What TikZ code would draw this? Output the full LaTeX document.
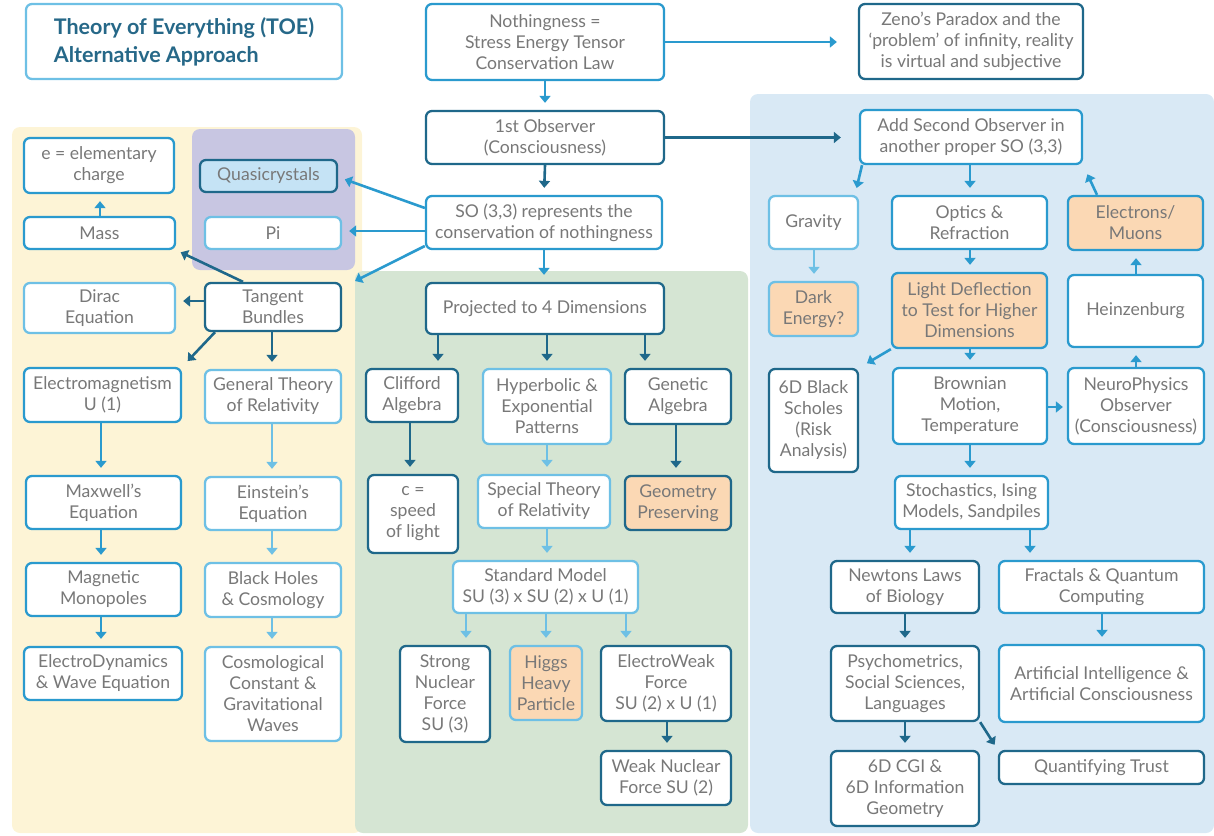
\documentclass[tikz,border=0pt]{standalone}
\usepackage{fontspec}
\setmainfont{Lato}
\usetikzlibrary{arrows.meta}
\definecolor{cdark}{RGB}{31,104,138}
\definecolor{cmed}{RGB}{42,154,206}
\definecolor{clight}{RGB}{110,192,229}
\definecolor{txt}{RGB}{120,120,120}
\definecolor{ctitle}{RGB}{38,104,136}
\definecolor{cyel}{RGB}{253,244,214}
\definecolor{cpur}{RGB}{200,198,226}
\definecolor{cgrn}{RGB}{213,229,211}
\definecolor{cblu}{RGB}{217,233,245}
\definecolor{corg}{RGB}{251,216,180}
\definecolor{cqua}{RGB}{197,227,245}
\newcommand\bx[7]{\node[#6, minimum width={(#4)-(#2)}, minimum height={(#5)-(#3)}] (#1) at ({((#2)+(#4))/2},{((#3)+(#5))/2}) {#7};}
\tikzset{
  base/.style={rectangle, rounded corners=6pt, line width=2.3pt, fill=white, text=txt, align=center, inner sep=1pt, font=\fontsize{17.6}{21}\selectfont},
  bd/.style={base, draw=cdark},
  bm/.style={base, draw=cmed},
  bl/.style={base, draw=clight},
  ofill/.style={fill=corg},
  arr/.style={line width=2.6pt, -{Triangle[width=11pt,length=7pt]}, shorten >=7pt},
  ad/.style={arr, draw=cdark},
  am/.style={arr, draw=cmed},
  al/.style={arr, draw=clight},
}
\begin{document}
\begin{tikzpicture}[x=1pt,y=-1pt]
\useasboundingbox (0,0) rectangle (1214,835);
% panels
\fill[cyel, rounded corners=8pt] (12,127) rectangle (362,833);
\fill[cpur, rounded corners=8pt] (192,129) rectangle (355,270);
\fill[cgrn, rounded corners=8pt] (355,271) rectangle (748,833);
\fill[cblu, rounded corners=8pt] (750,94) rectangle (1214,833);
% top
\bx{title}{26}{4}{342}{79}{bl, align=left, text=ctitle, font=\fontsize{21.5}{28}\bfseries\selectfont}{Theory of Everything (TOE)\\Alternative Approach}
\bx{nothing}{426}{4}{664}{80}{bm}{Nothingness =\\Stress Energy Tensor\\Conservation Law}
\bx{zeno}{859}{4}{1083}{79}{bd}{Zeno’s Paradox and the\\‘problem’ of infinity, reality\\is virtual and subjective}
\bx{obs1}{426}{111}{664}{164}{bd}{1st Observer\\(Consciousness)}
\bx{obs2}{860}{110}{1082}{164}{bm}{Add Second Observer in\\another proper SO (3,3)}
\bx{so}{426}{196}{662}{249}{bm}{SO (3,3) represents the\\conservation of nothingness}
% yellow / purple
\bx{echarge}{24}{138}{174}{193}{bm}{e = elementary\\charge}
\bx{mass}{24}{217}{175}{249}{bm}{Mass}
\bx{quasi}{200}{160}{337}{192}{bd, fill=cqua}{Quasicrystals}
\bx{pi}{205}{217}{341}{249}{bl}{Pi}
\bx{tangent}{205}{283}{341}{331}{bd}{Tangent\\Bundles}
\bx{dirac}{24}{283}{175}{333}{bl}{Dirac\\Equation}
\bx{em}{24}{368}{181}{422}{bm}{Electromagnetism\\U (1)}
\bx{gtr}{205}{370}{341}{423}{bl}{General Theory\\of Relativity}
\bx{maxwell}{26}{476}{181}{529}{bm}{Maxwell’s\\Equation}
\bx{einstein}{205}{477}{341}{530}{bl}{Einstein’s\\Equation}
\bx{mono}{26}{563}{181}{616}{bm}{Magnetic\\Monopoles}
\bx{bh}{205}{563}{341}{617}{bl}{Black Holes\\\& Cosmology}
\bx{edyn}{24}{647}{182}{700}{bm}{ElectroDynamics\\\& Wave Equation}
\bx{cosmo}{205}{647}{341}{741}{bl}{Cosmological\\Constant \&\\Gravitational\\Waves}
% green
\bx{proj}{426}{283}{664}{334}{bd}{Projected to 4 Dimensions}
\bx{cliff}{366}{369}{458}{422}{bd}{Clifford\\Algebra}
\bx{hyper}{483}{369}{611}{444}{bl}{Hyperbolic \&\\Exponential\\Patterns}
\bx{genetic}{625}{369}{731}{424}{bd}{Genetic\\Algebra}
\bx{clight}{368}{475}{458}{553}{bd}{c =\\speed\\of light}
\bx{str}{478}{475}{610}{528}{bl}{Special Theory\\of Relativity}
\bx{geo}{625}{476}{731}{530}{bd, ofill}{Geometry\\Preserving}
\bx{sm}{453}{561}{638}{613}{bl}{Standard Model\\SU (3) x SU (2) x U (1)}
\bx{strong}{400}{646}{490}{742}{bd}{Strong\\Nuclear\\Force\\SU (3)}
\bx{higgs}{510}{646}{582}{720}{bl, ofill}{Higgs\\Heavy\\Particle}
\bx{ew}{601}{646}{731}{721}{bd}{ElectroWeak\\Force\\SU (2) x U (1)}
\bx{weak}{601}{751}{731}{805}{bd}{Weak Nuclear\\Force SU (2)}
% blue
\bx{grav}{769}{196}{858}{249}{bl}{Gravity}
\bx{optics}{892}{196}{1047}{249}{bm}{Optics \&\\Refraction}
\bx{elec}{1068}{196}{1203}{250}{bm, ofill}{Electrons/\\Muons}
\bx{dark}{769}{282}{858}{336}{bl, ofill}{Dark\\Energy?}
\bx{light}{892}{273}{1047}{348}{bm, ofill}{Light Deflection\\to Test for Higher\\Dimensions}
\bx{heinz}{1068}{275}{1203}{347}{bm}{Heinzenburg}
\bx{black}{769}{369}{858}{472}{bd}{6D Black\\Scholes\\(Risk\\Analysis)}
\bx{brown}{893}{368}{1047}{444}{bm}{Brownian\\Motion,\\Temperature}
\bx{neuro}{1068}{368}{1204}{444}{bm}{NeuroPhysics\\Observer\\(Consciousness)}
\bx{stoch}{895}{476}{1048}{529}{bm}{Stochastics, Ising\\Models, Sandpiles}
\bx{newton}{831}{561}{979}{613}{bd}{Newtons Laws\\of Biology}
\bx{fract}{999}{561}{1204}{613}{bm}{Fractals \& Quantum\\Computing}
\bx{psycho}{831}{646}{979}{721}{bd}{Psychometrics,\\Social Sciences,\\Languages}
\bx{ai}{999}{645}{1204}{722}{bm}{Artificial Intelligence \&\\Artificial Consciousness}
\bx{cgi}{831}{751}{979}{826}{bd}{6D CGI \&\\6D Information\\Geometry}
\bx{trust}{999}{751}{1204}{784}{bd}{Quantifying Trust}
\coordinate (tbend) at (355,281);
% arrows top
\draw[am, shorten >=21pt] (nothing.east |- 0,42) -- (zeno.west |- 0,42);
\draw[am] (nothing.south) -- (obs1.north);
\draw[ad, shorten >=18pt] (obs1.east) -- (obs2.west |- obs1.east);
\draw[ad] (obs1.south) -- (so.north);
\draw[am] (so.west |- 0,208) -- (quasi.east |- 0,177);
\draw[am] (so.west |- 0,231) -- (pi.east |- 0,231);
\draw[am, shorten >=0pt] (so.west |- 0,246) -- (tbend);
\draw[am] (so.south) -- (so.south |- proj.north);
% yellow
\draw[ad, shorten >=5pt] (243,0 |- tangent.north) -- (mass.south east);
\draw[am] (100,0 |- mass.north) -- (100,0 |- echarge.south);
\draw[ad] (tangent.west |- 0,301) -- (dirac.east |- 0,301);
\draw[ad, shorten >=8pt] (215,0 |- tangent.south) -- (em.north east);
\draw[ad] (272,0 |- tangent.south) -- (272,0 |- gtr.north);
\draw[am] (101,0 |- em.south) -- (101,0 |- maxwell.north);
\draw[al] (272,0 |- gtr.south) -- (272,0 |- einstein.north);
\draw[am] (101,0 |- maxwell.south) -- (101,0 |- mono.north);
\draw[al] (272,0 |- einstein.south) -- (272,0 |- bh.north);
\draw[am] (101,0 |- mono.south) -- (101,0 |- edyn.north);
\draw[al] (272,0 |- bh.south) -- (272,0 |- cosmo.north);
% green
\draw[ad] (438,0 |- proj.south) -- (438,0 |- cliff.north);
\draw[ad] (547,0 |- proj.south) -- (547,0 |- hyper.north);
\draw[ad] (645,0 |- proj.south) -- (645,0 |- genetic.north);
\draw[ad] (410,0 |- cliff.south) -- (410,0 |- clight.north);
\draw[al] (547,0 |- hyper.south) -- (547,0 |- str.north);
\draw[ad] (676,0 |- genetic.south) -- (676,0 |- geo.north);
\draw[al] (547,0 |- str.south) -- (547,0 |- sm.north);
\draw[al] (466,0 |- sm.south) -- (466,0 |- strong.north);
\draw[al] (546,0 |- sm.south) -- (546,0 |- higgs.north);
\draw[al] (626,0 |- sm.south) -- (626,0 |- ew.north);
\draw[ad] (667,0 |- ew.south) -- (667,0 |- weak.north);
% blue
\draw[am] (862,0 |- obs2.south) -- (855,0 |- grav.north);
\draw[am] (970,0 |- obs2.south) -- (970,0 |- optics.north);
\draw[am, shorten >=10pt] (1097,0 |- elec.north) -- (obs2.south east);
\draw[al] (814,0 |- grav.south) -- (814,0 |- dark.north);
\draw[am] (970,0 |- optics.south) -- (970,0 |- light.north);
\draw[am, shorten >=9pt] (light.south west) -- (black.north east);
\draw[am] (970,0 |- light.south) -- (970,0 |- brown.north);
\draw[am] (1136,0 |- heinz.north) -- (1136,0 |- elec.south);
\draw[am] (1136,0 |- neuro.north) -- (1136,0 |- heinz.south);
\draw[am, shorten >=4pt] (brown.east |- 0,407) -- (neuro.west |- 0,407);
\draw[am] (970,0 |- brown.south) -- (970,0 |- stoch.north);
\draw[am] (910,0 |- stoch.south) -- (910,0 |- newton.north);
\draw[am] (1030,0 |- stoch.south) -- (1030,0 |- fract.north);
\draw[ad] (905,0 |- newton.south) -- (905,0 |- psycho.north);
\draw[am] (1102,0 |- fract.south) -- (1102,0 |- ai.north);
\draw[ad] (905,0 |- psycho.south) -- (905,0 |- cgi.north);
\draw[ad, shorten >=6pt] (psycho.south east) -- (trust.north west);
\end{tikzpicture}
\end{document}
